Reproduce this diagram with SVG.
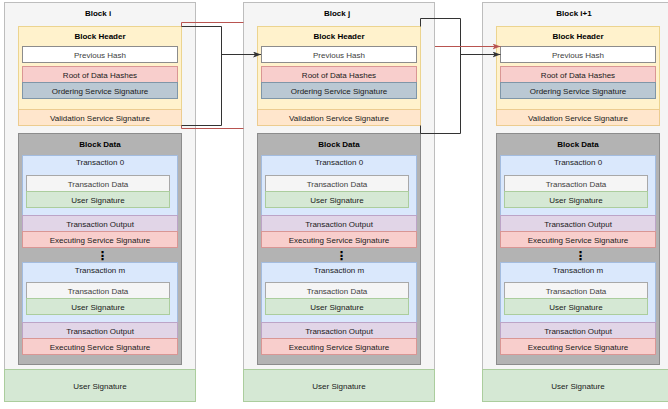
<svg xmlns="http://www.w3.org/2000/svg" width="668" height="409" viewBox="0 0 668 409">
<style>
text{font-family:"Liberation Sans",Arial,Helvetica,sans-serif;font-size:8px;text-anchor:middle;fill:#1a1a1a}
.b{font-weight:bold;fill:#000}
.g{fill:#404040}
rect{stroke-width:1}
.outer{fill:#f5f5f5;stroke:#bdbdbd}
.hdr{fill:#fff2cc;stroke:#ecd48f}
.val{fill:#ffe6cc;stroke:#eccc8f}
.ph{fill:#ffffff;stroke:#8c8c8c}
.red{fill:#f8cecc;stroke:#d99694}
.ord{fill:#bac8d3;stroke:#7f96a8}
.bd{fill:#b3b3b3;stroke:#8c8c8c}
.tx{fill:#dae8fc;stroke:#a3bcdf}
.td{fill:#f5f5f5;stroke:#a8a8a8}
.us{fill:#d5e8d4;stroke:#abcd9d}
.to{fill:#e1d5e7;stroke:#bca4c7}
.dots{font-family:"DejaVu Sans",sans-serif;font-size:12px;font-weight:bold;fill:#000}
.cb{fill:none;stroke:#333333;stroke-width:1}
.cr{fill:none;stroke:#b85450;stroke-width:1}
</style>
<defs>
<marker id="ab" markerUnits="userSpaceOnUse" viewBox="0 0 8 6" refX="8" refY="3" markerWidth="8" markerHeight="6" orient="auto"><path d="M0,0 L8,3 L0,6 L2,3 z" fill="#333333"/></marker>
<marker id="ar" markerUnits="userSpaceOnUse" viewBox="0 0 8 6" refX="8" refY="3" markerWidth="8" markerHeight="6" orient="auto"><path d="M0,0 L8,3 L0,6 L2,3 z" fill="#b85450"/></marker>
</defs>

<g id="block-i">
<rect class="outer" x="4.5" y="2.5" width="191" height="367"/>
<text class="b" x="98" y="15.5">Block i</text>
<g id="block-i-header">
<rect class="hdr" x="18.5" y="26.5" width="163" height="83"/>
<text class="b" x="100" y="39">Block Header</text>
</g>
<g id="block-i-prevhash"><rect class="ph" x="22.5" y="46.5" width="155" height="16"/><text class="g" x="100" y="57.5">Previous Hash</text></g>
<g id="block-i-root"><rect class="red" x="22.5" y="66.5" width="155" height="16"/><text x="100" y="77.5">Root of Data Hashes</text></g>
<g id="block-i-ordering"><rect class="ord" x="22.5" y="82.5" width="155" height="16"/><text x="100" y="93.5">Ordering Service Signature</text></g>
<g id="block-i-validation"><rect class="val" x="18.5" y="109.5" width="163" height="16"/><text x="100" y="120.5">Validation Service Signature</text></g>
<g id="block-i-data"><rect class="bd" x="18.5" y="133.5" width="163" height="231"/><text class="b" x="100" y="147">Block Data</text></g>
<g id="block-i-tx0"><rect class="tx" x="22.5" y="155.5" width="155" height="60"/><text x="100" y="165">Transaction 0</text></g>
<g id="block-i-tx0-data"><rect class="td" x="26.5" y="175.5" width="143" height="16"/><text class="g" x="98" y="186.5">Transaction Data</text></g>
<g id="block-i-tx0-sig"><rect class="us" x="26.5" y="191.5" width="143" height="16"/><text x="98" y="202.5">User Signature</text></g>
<g id="block-i-tx0-out"><rect class="to" x="22.5" y="215.5" width="155" height="16"/><text x="100" y="226.5">Transaction Output</text></g>
<g id="block-i-tx0-exec"><rect class="red" x="22.5" y="231.5" width="155" height="16"/><text x="100" y="242.5">Executing Service Signature</text></g>
<text class="dots" x="102.5" y="259.5">⋮</text>
<g id="block-i-txm"><rect class="tx" x="22.5" y="262.5" width="155" height="60"/><text x="100" y="273">Transaction m</text></g>
<g id="block-i-txm-data"><rect class="td" x="26.5" y="282.5" width="143" height="16"/><text class="g" x="98" y="293.5">Transaction Data</text></g>
<g id="block-i-txm-sig"><rect class="us" x="26.5" y="298.5" width="143" height="16"/><text x="98" y="309.5">User Signature</text></g>
<g id="block-i-txm-out"><rect class="to" x="22.5" y="322.5" width="155" height="16"/><text x="100" y="333.5">Transaction Output</text></g>
<g id="block-i-txm-exec"><rect class="red" x="22.5" y="338.5" width="155" height="16"/><text x="100" y="349.5">Executing Service Signature</text></g>
<g id="block-i-usersig"><rect class="us" x="4.5" y="369.5" width="191" height="32"/><text x="100" y="388.5">User Signature</text></g>
</g>

<g id="block-j" transform="translate(239,0)">
<rect class="outer" x="4.5" y="2.5" width="191" height="367"/>
<text class="b" x="98" y="15.5">Block j</text>
<g id="block-j-header">
<rect class="hdr" x="18.5" y="26.5" width="163" height="83"/>
<text class="b" x="100" y="39">Block Header</text>
</g>
<g id="block-j-prevhash"><rect class="ph" x="22.5" y="46.5" width="155" height="16"/><text class="g" x="100" y="57.5">Previous Hash</text></g>
<g id="block-j-root"><rect class="red" x="22.5" y="66.5" width="155" height="16"/><text x="100" y="77.5">Root of Data Hashes</text></g>
<g id="block-j-ordering"><rect class="ord" x="22.5" y="82.5" width="155" height="16"/><text x="100" y="93.5">Ordering Service Signature</text></g>
<g id="block-j-validation"><rect class="val" x="18.5" y="109.5" width="163" height="16"/><text x="100" y="120.5">Validation Service Signature</text></g>
<g id="block-j-data"><rect class="bd" x="18.5" y="133.5" width="163" height="231"/><text class="b" x="100" y="147">Block Data</text></g>
<g id="block-j-tx0"><rect class="tx" x="22.5" y="155.5" width="155" height="60"/><text x="100" y="165">Transaction 0</text></g>
<g id="block-j-tx0-data"><rect class="td" x="26.5" y="175.5" width="143" height="16"/><text class="g" x="98" y="186.5">Transaction Data</text></g>
<g id="block-j-tx0-sig"><rect class="us" x="26.5" y="191.5" width="143" height="16"/><text x="98" y="202.5">User Signature</text></g>
<g id="block-j-tx0-out"><rect class="to" x="22.5" y="215.5" width="155" height="16"/><text x="100" y="226.5">Transaction Output</text></g>
<g id="block-j-tx0-exec"><rect class="red" x="22.5" y="231.5" width="155" height="16"/><text x="100" y="242.5">Executing Service Signature</text></g>
<text class="dots" x="102.5" y="259.5">⋮</text>
<g id="block-j-txm"><rect class="tx" x="22.5" y="262.5" width="155" height="60"/><text x="100" y="273">Transaction m</text></g>
<g id="block-j-txm-data"><rect class="td" x="26.5" y="282.5" width="143" height="16"/><text class="g" x="98" y="293.5">Transaction Data</text></g>
<g id="block-j-txm-sig"><rect class="us" x="26.5" y="298.5" width="143" height="16"/><text x="98" y="309.5">User Signature</text></g>
<g id="block-j-txm-out"><rect class="to" x="22.5" y="322.5" width="155" height="16"/><text x="100" y="333.5">Transaction Output</text></g>
<g id="block-j-txm-exec"><rect class="red" x="22.5" y="338.5" width="155" height="16"/><text x="100" y="349.5">Executing Service Signature</text></g>
<g id="block-j-usersig"><rect class="us" x="4.5" y="369.5" width="191" height="32"/><text x="100" y="388.5">User Signature</text></g>
</g>

<g id="block-i1" transform="translate(478,0)">
<rect class="outer" x="4.5" y="2.5" width="191" height="367"/>
<text class="b" x="96" y="15.5">Block i+1</text>
<g id="block-i1-header">
<rect class="hdr" x="18.5" y="26.5" width="163" height="83"/>
<text class="b" x="100" y="39">Block Header</text>
</g>
<g id="block-i1-prevhash"><rect class="ph" x="22.5" y="46.5" width="155" height="16"/><text class="g" x="100" y="57.5">Previous Hash</text></g>
<g id="block-i1-root"><rect class="red" x="22.5" y="66.5" width="155" height="16"/><text x="100" y="77.5">Root of Data Hashes</text></g>
<g id="block-i1-ordering"><rect class="ord" x="22.5" y="82.5" width="155" height="16"/><text x="100" y="93.5">Ordering Service Signature</text></g>
<g id="block-i1-validation"><rect class="val" x="18.5" y="109.5" width="163" height="16"/><text x="100" y="120.5">Validation Service Signature</text></g>
<g id="block-i1-data"><rect class="bd" x="18.5" y="133.5" width="163" height="231"/><text class="b" x="100" y="147">Block Data</text></g>
<g id="block-i1-tx0"><rect class="tx" x="22.5" y="155.5" width="155" height="60"/><text x="100" y="165">Transaction 0</text></g>
<g id="block-i1-tx0-data"><rect class="td" x="26.5" y="175.5" width="143" height="16"/><text class="g" x="98" y="186.5">Transaction Data</text></g>
<g id="block-i1-tx0-sig"><rect class="us" x="26.5" y="191.5" width="143" height="16"/><text x="98" y="202.5">User Signature</text></g>
<g id="block-i1-tx0-out"><rect class="to" x="22.5" y="215.5" width="155" height="16"/><text x="100" y="226.5">Transaction Output</text></g>
<g id="block-i1-tx0-exec"><rect class="red" x="22.5" y="231.5" width="155" height="16"/><text x="100" y="242.5">Executing Service Signature</text></g>
<text class="dots" x="102.5" y="259.5">⋮</text>
<g id="block-i1-txm"><rect class="tx" x="22.5" y="262.5" width="155" height="60"/><text x="100" y="273">Transaction m</text></g>
<g id="block-i1-txm-data"><rect class="td" x="26.5" y="282.5" width="143" height="16"/><text class="g" x="98" y="293.5">Transaction Data</text></g>
<g id="block-i1-txm-sig"><rect class="us" x="26.5" y="298.5" width="143" height="16"/><text x="98" y="309.5">User Signature</text></g>
<g id="block-i1-txm-out"><rect class="to" x="22.5" y="322.5" width="155" height="16"/><text x="100" y="333.5">Transaction Output</text></g>
<g id="block-i1-txm-exec"><rect class="red" x="22.5" y="338.5" width="155" height="16"/><text x="100" y="349.5">Executing Service Signature</text></g>
<g id="block-i1-usersig"><rect class="us" x="4.5" y="369.5" width="191" height="32"/><text x="100" y="388.5">User Signature</text></g>
</g>

<g id="connectors">
<path class="cr" d="M181.5,26.5 V22.5 H243.5"/>
<path class="cr" d="M181.5,125.5 V128.5 H243.5"/>
<path class="cb" d="M181.5,26.5 H221.5 V125.5 H181.5"/>
<path class="cb" d="M221.5,54.5 H261" marker-end="url(#ab)"/>
<path class="cb" d="M420.5,26.5 V18.5 H460.5 V133.5 H420.5 V125.5"/>
<path class="cb" d="M460.5,54.5 H500.5" marker-end="url(#ab)"/>
<path class="cr" d="M435,46.5 H500.5" marker-end="url(#ar)"/>
</g>
</svg>
